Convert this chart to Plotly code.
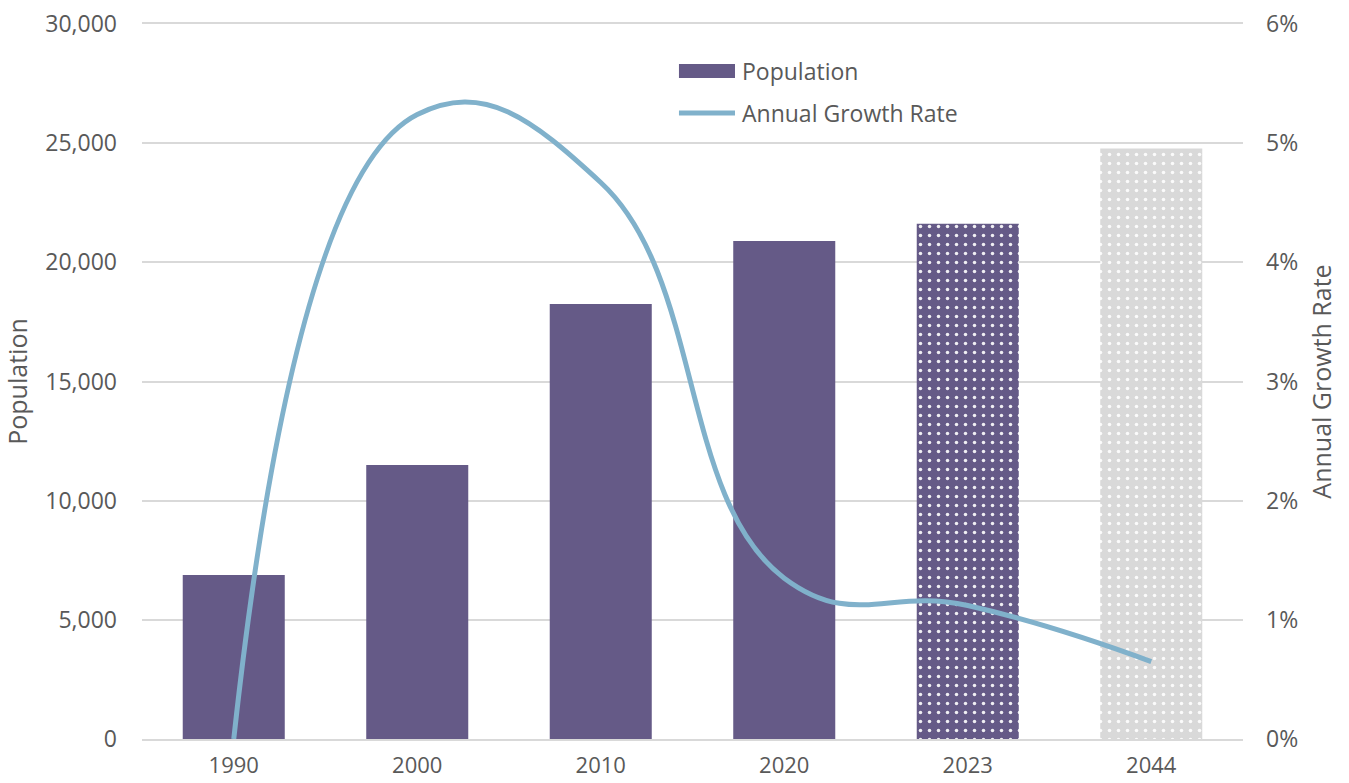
import plotly.graph_objects as go

# Census years and projections
years = ["1990", "2000", "2010", "2020", "2023", "2044"]
population = [6880, 11500, 18250, 20900, 21620, 24780]
growth_rate = [0.0, 0.0524, 0.0467, 0.0135, 0.0112, 0.0065]

# Solid bars for census counts, dotted fills for estimate / projection
pattern_shapes = ["", "", "", "", ".", "."]
pattern_bg = ["#655a87", "#655a87", "#655a87", "#655a87", "#655a87", "#d9d9d9"]

BAR = "#655a87"
LINE = "#80b1cb"
FONT = "Open Sans"
TEXT = "#595959"
GRID = "#d9d9d9"

fig = go.Figure()

fig.add_trace(go.Bar(
    x=years,
    y=population,
    name="Population",
    marker=dict(
        color=BAR,
        line=dict(width=0),
        pattern=dict(
            shape=pattern_shapes,
            fillmode="replace",
            bgcolor=pattern_bg,
            fgcolor="#ffffff",
            fgopacity=0.9,
            size=9,
            solidity=0.12,
        ),
    ),
    yaxis="y",
))

fig.add_trace(go.Scatter(
    x=years,
    y=growth_rate,
    name="Annual Growth Rate",
    mode="lines",
    line=dict(color=LINE, width=5, shape="spline", smoothing=1.3),
    yaxis="y2",
))

# Legend drawn in paper space: swatch, line sample and labels
legend_shapes = [
    dict(type="rect", xref="paper", yref="paper",
         x0=0.4877, x1=0.5386, y0=0.9245, y1=0.9441,
         fillcolor=BAR, line=dict(width=0)),
    dict(type="line", xref="paper", yref="paper",
         x0=0.4877, x1=0.5386, y0=0.8755, y1=0.8755,
         line=dict(color=LINE, width=5)),
]
legend_labels = [
    dict(text="Population", x=0.543, y=0.9343),
    dict(text="Annual Growth Rate", x=0.543, y=0.8755),
]

fig.update_layout(
    width=1349,
    height=783,
    margin=dict(l=142, r=106, t=24, b=44, autoexpand=False),
    plot_bgcolor="#ffffff",
    paper_bgcolor="#ffffff",
    font=dict(family=FONT, size=23, color=TEXT),
    bargap=0.444,
    showlegend=False,
    shapes=legend_shapes,
    annotations=[
        dict(text=a["text"], x=a["x"], y=a["y"], xref="paper", yref="paper",
             xanchor="left", yanchor="middle", showarrow=False,
             font=dict(family=FONT, size=23, color=TEXT))
        for a in legend_labels
    ],
    xaxis=dict(
        type="category",
        automargin=False,
        showgrid=False,
        showline=True,
        mirror=True,
        linecolor=GRID,
        linewidth=2,
        ticks="",
        ticklabelstandoff=6,
        tickfont=dict(size=22, color=TEXT),
    ),
    yaxis=dict(
        range=[0, 30000],
        automargin=False,
        tickvals=[0, 5000, 10000, 15000, 20000, 25000, 30000],
        tickformat=",",
        showgrid=True,
        gridcolor=GRID,
        gridwidth=1.5,
        zeroline=False,
        showline=False,
        ticks="",
        ticklabelstandoff=24,
        title=dict(text="Population", font=dict(size=25, color=TEXT), standoff=14),
        tickfont=dict(size=23, color=TEXT),
    ),
    yaxis2=dict(
        range=[0, 0.06],
        automargin=False,
        tickvals=[0, 0.01, 0.02, 0.03, 0.04, 0.05, 0.06],
        tickformat=".0%",
        overlaying="y",
        side="right",
        showgrid=False,
        zeroline=False,
        showline=False,
        ticks="",
        ticklabelstandoff=22,
        title=dict(text="Annual Growth Rate", font=dict(size=25, color=TEXT), standoff=16),
        tickfont=dict(size=23, color=TEXT),
    ),
)

fig.write_html("out.html")
